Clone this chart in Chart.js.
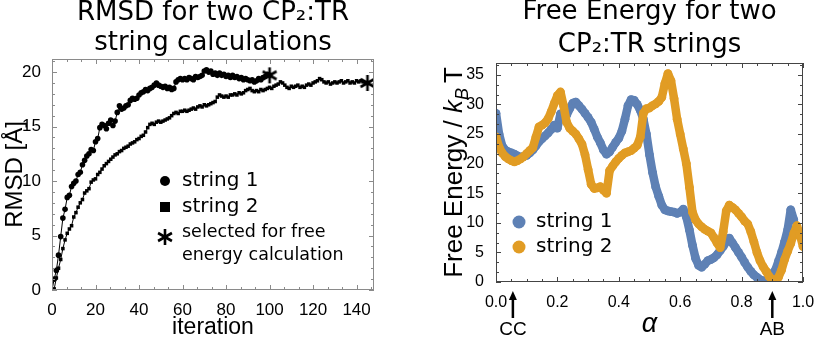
<!DOCTYPE html>
<html>
<head>
<meta charset="utf-8">
<script src="https://cdn.jsdelivr.net/npm/chart.js@4.4.1/dist/chart.umd.min.js"></script>
<style>
  html, body { margin: 0; padding: 0; background: #fff; }
  #wrap { position: relative; width: 830px; height: 341px; }
  .panel { position: absolute; top: 0; width: 415px; height: 341px; }
</style>
</head>
<body>
<div id="wrap">
  <div class="panel" style="left:0"><canvas id="rmsd-chart" width="415" height="341"></canvas></div>
  <div class="panel" style="left:415px"><canvas id="energy-chart" width="415" height="341"></canvas></div>
</div>
<script>
// left chart: RMSD per iteration (index = iteration)
const rmsdString1 = [
  0, 1.0, 1.8, 3.2, 4.9, 6.6, 7.4, 8.5, 8.7, 9.5,
  9.8, 10.0, 10.6, 10.8, 11.5, 11.9, 12.3, 12.5, 12.9, 12.8,
  13.6, 13.9, 14.9, 15.2, 15.1, 14.8, 15.3, 15.6, 15.1, 15.5,
  16.3, 16.9, 16.6, 16.7, 16.9, 17.0, 17.4, 17.6, 17.5, 17.6,
  17.9, 18.1, 18.2, 18.4, 18.3, 18.5, 18.6, 18.8, 19.0, 18.8,
  18.7, 18.6, 18.7, 18.5, 18.6, 18.4, 18.5, 19.1, 19.3, 19.4,
  19.3, 19.4, 19.3, 19.5, 19.4, 19.3, 19.6, 19.5, 19.6, 19.7,
  20.1, 20.2, 20.0, 20.1, 19.8, 19.9, 19.7, 19.9, 19.7, 19.8,
  19.6, 19.7, 19.5, 19.7, 19.5, 19.6, 19.4, 19.5, 19.3, 19.4,
  19.3, 19.2, 19.3, 19.1, 19.2, 19.4, 19.3, 19.5, 19.6, 19.8,
  19.7
];
const rmsdString2 = [
  0, 0.1, 1.1, 2.0, 2.8, 3.8, 4.6, 5.2, 5.6, 5.9,
  6.7, 7.1, 7.6, 8.0, 8.3, 8.9, 9.1, 9.3, 9.9, 10.1,
  10.2, 10.6, 10.8, 11.1, 11.4, 11.6, 11.8, 12.0, 12.2, 12.4,
  12.5, 12.7, 12.8, 13.0, 13.1, 13.2, 13.4, 13.5, 13.6, 13.8,
  13.9, 14.1, 14.2, 14.5, 14.9, 15.2, 15.3, 15.2, 15.4, 15.5,
  15.4, 15.5, 15.6, 15.7, 15.8, 16.0, 16.2, 16.3, 16.2, 16.4,
  16.4, 16.5, 16.4, 16.5, 16.6, 16.7, 16.6, 16.8, 16.9, 16.8,
  17.0, 16.9, 17.0, 17.1, 17.2, 17.3, 17.7, 17.9, 17.8, 17.7,
  17.8, 17.7, 17.9, 17.9, 18.0, 17.9, 18.1, 18.0, 18.1, 18.3,
  18.4, 18.5, 18.3, 18.2, 18.3, 18.2, 18.4, 18.3, 18.4, 18.5,
  18.6, 18.5, 18.7, 18.8, 18.9, 19.1, 19.0, 18.8, 18.6, 18.5,
  18.7, 18.6, 18.7, 18.8, 18.6, 18.7, 18.6, 18.8, 18.9, 18.8,
  19.0, 19.1, 19.2, 19.4, 19.3, 19.1, 19.0, 19.1, 18.9, 19.0,
  19.1, 19.0, 19.1, 19.2, 19.0, 19.1, 19.2, 19.0, 19.1, 19.0,
  19.2, 19.1, 19.2, 19.1, 19.0, 19.0
];
const rmsdXTicks = [0, 20, 40, 60, 80, 100, 120, 140];
const rmsdYTicks = [0, 5, 10, 15, 20];
const rmsdKeyLabels = ['string 1', 'string 2', ['selected for free', 'energy calculation']];

// right chart: free energy along alpha, one value per 0.01
const energyString1 = [
  28.5, 25.0, 23.0, 22.3, 22.0, 21.8, 21.6, 21.3, 21.1, 21.2,
  21.4, 21.8, 22.3, 23.0, 23.7, 24.2, 24.7, 25.2, 25.8, 26.5,
  26.0, 28.4, 28.5, 28.2, 29.3, 30.2, 30.4, 29.8, 29.2, 28.5,
  27.8, 27.0, 25.8, 24.5, 23.5, 22.3, 21.6, 22.0, 22.8, 23.6,
  24.3, 25.5, 27.5, 29.8, 30.8, 30.7, 30.0, 29.0, 27.5, 25.0,
  21.5, 18.5, 16.1, 14.5, 13.0, 12.2, 12.0, 11.9, 11.8, 11.6,
  11.8, 12.3, 11.0, 8.8, 6.2, 4.0, 2.8, 2.5, 3.0, 3.6,
  3.8, 4.1, 4.6, 5.3, 6.0, 6.8, 7.4, 6.6, 5.8, 5.0,
  4.2, 3.3, 2.5, 1.8, 1.2, 0.8, 0.4, 0.2, 0.1, 0.8,
  1.4, 2.0, 3.5, 5.0, 6.8, 8.8, 12.2, 10.5
];
const energyString2 = [
  24.5, 22.8, 21.8, 21.2, 20.8, 20.5, 20.3, 20.5, 20.8, 21.2,
  21.7, 22.2, 22.7, 24.5, 26.2, 26.5, 26.9, 27.6, 28.8, 30.2,
  31.5, 32.1, 29.8, 27.0, 26.0, 25.5, 25.0, 24.2, 23.3, 21.5,
  19.0, 16.5, 15.8, 15.9, 16.1, 15.5, 15.0, 18.8, 19.6, 20.3,
  20.9, 21.4, 21.8, 22.0, 22.2, 22.6, 23.1, 24.5, 28.5, 29.3,
  29.4, 29.8, 30.1, 30.5, 31.2, 33.5, 35.2, 34.0, 31.0, 27.5,
  25.0, 22.5, 20.0, 16.0, 11.8, 10.5, 9.8, 9.3, 8.9, 8.6,
  8.3, 7.5, 6.6, 5.8, 8.5, 12.0, 13.0, 12.6, 12.2, 11.6,
  11.0, 10.3, 9.8, 8.5, 6.8, 5.0, 3.6, 2.6, 1.8, 0.9,
  0.4, 0.3, 0.8, 2.0, 3.8, 5.2, 6.5, 8.2, 9.5, 8.0,
  6.0
];
const alphaStep = 0.01;
const energyXTicks = [0, 0.2, 0.4, 0.6, 0.8, 1.0];
const energyYTicks = [0, 5, 10, 15, 20, 25, 30, 35];
const stateNames = ['CC', 'AB'];
const stateAlphas = [0.055, 0.9];

const blue = '#5e81b5';
const orange = '#e19c24';
const sans = '"Liberation Sans", Arial, sans-serif';
const dejavu = '"DejaVu Sans", sans-serif';

// six-armed asterisk used for the "selected" points
function makeAsterisk(r, w) {
  const c = document.createElement('canvas');
  c.width = c.height = 2 * r + 4;
  const g = c.getContext('2d');
  g.strokeStyle = '#000';
  g.lineWidth = w;
  g.translate(r + 2, r + 2);
  for (let k = 0; k < 3; k++) {
    const a = Math.PI / 2 + k * Math.PI / 3;
    g.beginPath();
    g.moveTo(Math.cos(a) * r, Math.sin(a) * r);
    g.lineTo(-Math.cos(a) * r, -Math.sin(a) * r);
    g.stroke();
  }
  return c;
}
const starImg = makeAsterisk(8, 2.6);

// frame with inward ticks on all four sides
const frameTicks = {
  id: 'frameTicks',
  afterDatasetsDraw(chart, args, o) {
    const { ctx, chartArea: { left, right, top, bottom }, scales: { x, y } } = chart;
    ctx.save();
    ctx.strokeStyle = o.color;
    ctx.lineWidth = 1;
    ctx.strokeRect(left + 0.5, top + 0.5, right - left - 1, bottom - top - 1);
    ctx.beginPath();
    const xt = (v, len) => {
      const p = Math.round(x.getPixelForValue(v)) + 0.5;
      ctx.moveTo(p, bottom); ctx.lineTo(p, bottom - len);
      ctx.moveTo(p, top); ctx.lineTo(p, top + len);
    };
    const yt = (v, len) => {
      const p = Math.round(y.getPixelForValue(v)) + 0.5;
      ctx.moveTo(left, p); ctx.lineTo(left + len, p);
      ctx.moveTo(right, p); ctx.lineTo(right - len, p);
    };
    for (let v = 0; v <= x.max + 1e-9; v += o.minorX) xt(v, 3);
    for (let v = 0; v <= y.max + 1e-9; v += o.minorY) yt(v, 3);
    o.majorX.forEach(v => xt(v, 5));
    o.majorY.forEach(v => yt(v, 5));
    ctx.stroke();
    ctx.restore();
  }
};

// two line title centered over the plot
const panelTitle = {
  id: 'panelTitle',
  afterDraw(chart, args, o) {
    const { ctx, chartArea: { left, right } } = chart;
    ctx.save();
    ctx.fillStyle = '#000';
    ctx.font = o.font;
    ctx.textAlign = 'center';
    ctx.textBaseline = 'alphabetic';
    o.lines.forEach((t, i) => ctx.fillText(t, (left + right) / 2, o.baselines[i]));
    ctx.restore();
  }
};

const rmsdKey = {
  id: 'rmsdKey',
  afterDraw(chart) {
    const { ctx } = chart;
    ctx.save();
    ctx.fillStyle = '#000';
    ctx.beginPath();
    ctx.arc(165, 181, 5, 0, 2 * Math.PI);
    ctx.fill();
    ctx.fillRect(160, 202, 10, 10);
    ctx.drawImage(starImg, 165 - starImg.width / 2, 237 - starImg.height / 2);
    ctx.textBaseline = 'middle';
    ctx.font = '20px ' + dejavu;
    ctx.fillText(rmsdKeyLabels[0], 182, 181);
    ctx.fillText(rmsdKeyLabels[1], 182, 207);
    ctx.font = '17.5px ' + dejavu;
    ctx.fillText(rmsdKeyLabels[2][0], 182, 232);
    ctx.fillText(rmsdKeyLabels[2][1], 182, 255);
    ctx.restore();
  }
};

const energyKey = {
  id: 'energyKey',
  afterDraw(chart) {
    const { ctx } = chart;
    ctx.save();
    ctx.textBaseline = 'middle';
    ctx.font = '20px ' + dejavu;
    [[blue, 'string 1', 222], [orange, 'string 2', 247]].forEach(([c, t, yy]) => {
      ctx.fillStyle = c;
      ctx.beginPath();
      ctx.arc(104, yy, 6.5, 0, 2 * Math.PI);
      ctx.fill();
      ctx.fillStyle = '#000';
      ctx.fillText(t, 121, yy);
    });
    ctx.restore();
  }
};

// y title with italic k and subscript B
const energyYTitle = {
  id: 'energyYTitle',
  afterDraw(chart) {
    const { ctx, chartArea: { top, bottom } } = chart;
    const parts = [
      ['Free Energy / ', '26px ' + sans, 0],
      ['k', 'italic 26px ' + sans, 0],
      ['B', 'italic 18px ' + sans, 6],
      ['T', '26px ' + sans, 0]
    ];
    ctx.save();
    let total = 0;
    parts.forEach(p => { ctx.font = p[1]; total += ctx.measureText(p[0]).width; });
    total += 5;
    ctx.translate(38, (top + bottom) / 2);
    ctx.rotate(-Math.PI / 2);
    ctx.fillStyle = '#000';
    ctx.textBaseline = 'alphabetic';
    let xx = -total / 2;
    parts.forEach((p, i) => {
      ctx.font = p[1];
      if (i === 3) xx += 5;
      ctx.fillText(p[0], xx, 9 + p[2]);
      xx += ctx.measureText(p[0]).width;
    });
    ctx.restore();
  }
};

const stateArrows = {
  id: 'stateArrows',
  afterDraw(chart) {
    const { ctx, chartArea: { bottom }, scales: { x } } = chart;
    ctx.save();
    ctx.fillStyle = '#000';
    ctx.strokeStyle = '#000';
    ctx.lineWidth = 2.5;
    ctx.font = '19px ' + sans;
    ctx.textAlign = 'center';
    ctx.textBaseline = 'middle';
    stateAlphas.forEach((a, i) => {
      const px = x.getPixelForValue(a);
      ctx.beginPath();
      ctx.moveTo(px, bottom + 36);
      ctx.lineTo(px, bottom + 16);
      ctx.stroke();
      ctx.beginPath();
      ctx.moveTo(px, bottom + 9);
      ctx.lineTo(px - 4, bottom + 18);
      ctx.lineTo(px + 4, bottom + 18);
      ctx.closePath();
      ctx.fill();
      ctx.fillText(stateNames[i], px, bottom + 48);
    });
    ctx.restore();
  }
};

const pts = (arr, step) => arr.map((v, i) => ({ x: i * step, y: v }));
const pickTicks = list => scale => { scale.ticks = list.map(v => ({ value: v })); };

let rmsdCanvas = document.getElementById('rmsd-chart').getContext('2d');
let rmsdChart = new Chart(rmsdCanvas, {
  type: 'line',
  data: {
    datasets: [
      {
        label: 'selected',
        data: [
          { x: rmsdString1.length - 1, y: rmsdString1[rmsdString1.length - 1] },
          { x: rmsdString2.length - 1, y: rmsdString2[rmsdString2.length - 1] }
        ],
        showLine: false,
        pointStyle: starImg,
        pointRadius: 8
      },
      {
        label: 'string 1',
        data: pts(rmsdString1, 1),
        borderColor: '#000',
        borderWidth: 1,
        pointStyle: 'circle',
        pointRadius: 2.8,
        pointBackgroundColor: '#000',
        pointBorderWidth: 0
      },
      {
        label: 'string 2',
        data: pts(rmsdString2, 1),
        borderColor: '#000',
        borderWidth: 1,
        pointStyle: 'rect',
        pointRadius: 2.5,
        pointBackgroundColor: '#000',
        pointBorderWidth: 0
      }
    ]
  },
  options: {
    responsive: false,
    animation: false,
    devicePixelRatio: 1,
    layout: { padding: { top: 59, right: 41, bottom: 0, left: 0 } },
    scales: {
      x: {
        type: 'linear', min: 0, max: 148,
        afterBuildTicks: pickTicks(rmsdXTicks),
        afterFit: s => { s.height = 51; },
        grid: { display: false },
        border: { display: false },
        ticks: { color: '#000', font: { family: sans, size: 17 }, padding: 2, maxRotation: 0 },
        title: { display: true, text: 'iteration', color: '#000', font: { family: sans, size: 23 }, padding: 0 }
      },
      y: {
        min: 0, max: 21.2,
        afterBuildTicks: pickTicks(rmsdYTicks),
        afterFit: s => { s.width = 52; },
        grid: { display: false },
        border: { display: false },
        ticks: { color: '#000', font: { family: sans, size: 17 }, padding: 3 },
        title: { display: true, text: 'RMSD [Å]', color: '#000', font: { family: sans, size: 24 }, padding: 1 }
      }
    },
    plugins: {
      legend: { display: false },
      tooltip: { enabled: false },
      frameTicks: { color: '#8a8a8a', majorX: rmsdXTicks, majorY: rmsdYTicks, minorX: 20 / 3, minorY: 1 },
      panelTitle: { lines: ['RMSD for two CP₂:TR', 'string calculations'], baselines: [20, 50], font: '26px ' + dejavu }
    }
  },
  plugins: [frameTicks, panelTitle, rmsdKey]
});

let energyCanvas = document.getElementById('energy-chart').getContext('2d');
let energyChart = new Chart(energyCanvas, {
  type: 'line',
  data: {
    datasets: [
      {
        label: 'string 1',
        data: pts(energyString1, alphaStep),
        order: 2,
        borderColor: blue,
        backgroundColor: blue,
        borderWidth: 8.5,
        borderJoinStyle: 'round',
        borderCapStyle: 'round',
        pointRadius: 4.4,
        pointBorderWidth: 0,
        pointBackgroundColor: blue,
        clip: 0
      },
      {
        label: 'string 2',
        data: pts(energyString2, alphaStep),
        order: 1,
        borderColor: orange,
        backgroundColor: orange,
        borderWidth: 8.5,
        borderJoinStyle: 'round',
        borderCapStyle: 'round',
        pointRadius: 4.4,
        pointBorderWidth: 0,
        pointBackgroundColor: orange,
        clip: 0
      }
    ]
  },
  options: {
    responsive: false,
    animation: false,
    devicePixelRatio: 1,
    layout: { padding: { top: 63, right: 27, bottom: 0, left: 0 } },
    scales: {
      x: {
        type: 'linear', min: 0, max: 1,
        afterBuildTicks: pickTicks(energyXTicks),
        afterFit: s => { s.height = 59; },
        grid: { display: false },
        border: { display: false },
        ticks: { color: '#000', font: { family: sans, size: 16 }, padding: 3, maxRotation: 0,
                 callback: v => v.toFixed(1) },
        title: { display: true, text: 'α', color: '#000', font: { family: sans, size: 27, style: 'italic' }, padding: 0 }
      },
      y: {
        min: 0, max: 37,
        afterBuildTicks: pickTicks(energyYTicks),
        afterFit: s => { s.width = 81; },
        grid: { display: false },
        border: { display: false },
        ticks: { color: '#000', font: { family: sans, size: 16 }, padding: 4 },
        title: { display: false }
      }
    },
    plugins: {
      legend: { display: false },
      tooltip: { enabled: false },
      frameTicks: { color: '#444', majorX: energyXTicks, majorY: energyYTicks, minorX: 0.05, minorY: 5 / 3 },
      panelTitle: { lines: ['Free Energy for two', 'CP₂:TR strings'], baselines: [19, 51.5], font: '26px ' + dejavu }
    }
  },
  plugins: [frameTicks, panelTitle, energyKey, energyYTitle, stateArrows]
});
</script>
</body>
</html>
